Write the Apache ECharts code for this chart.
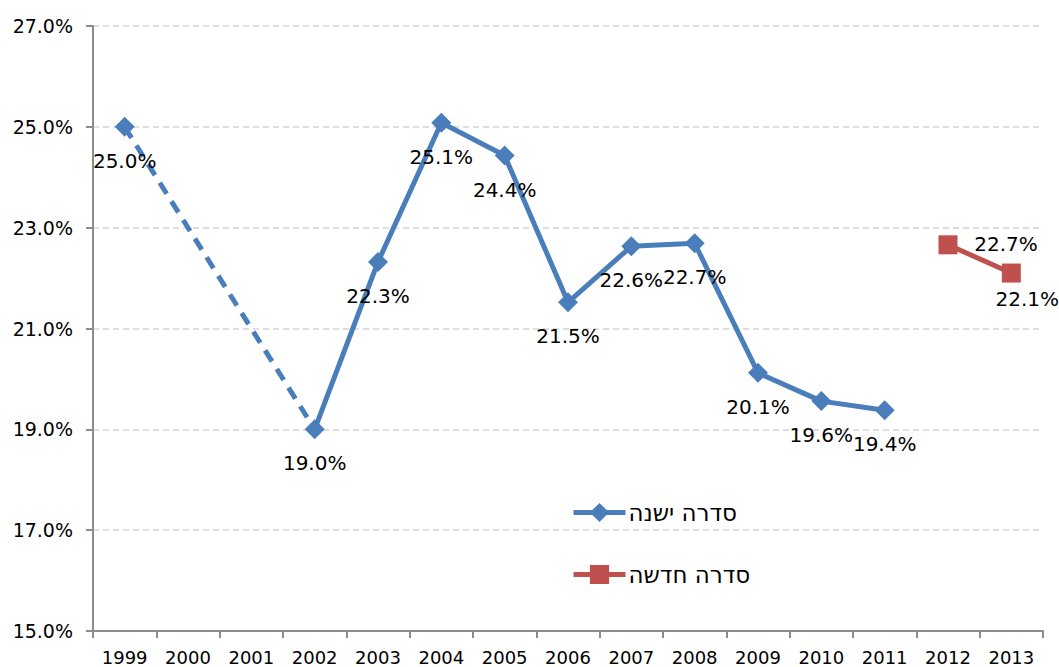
<!DOCTYPE html>
<html>
<head>
<meta charset="utf-8">
<script src="https://cdn.jsdelivr.net/npm/echarts@6/dist/echarts.min.js"></script>
<style>
html,body{margin:0;padding:0;background:#fff;}
#main{width:1059px;height:667px;}
</style>
</head>
<body>
<div id="main"></div>
<script>
var years = ['1999','2000','2001','2002','2003','2004','2005','2006','2007','2008','2009','2010','2011','2012','2013'];
// סדרה ישנה
var oldSeries = [25.0, null, null, 19.0, 22.32, 25.08, 24.43, 21.52, 22.63, 22.69, 20.12, 19.56, 19.38, null, null];
// קטע מקווקו 1999-2002
var oldGap = [25.0, null, null, 19.0, null, null, null, null, null, null, null, null, null, null, null];
// סדרה חדשה
var newSeries = [null, null, null, null, null, null, null, null, null, null, null, null, null, 22.66, 22.10];
var yTicks = [15, 17, 19, 21, 23, 25, 27];

var font = 'DejaVu Sans';
var blue = '#4a7ebb';
var red = '#c0504d';

// svg כדי שהעברית תוצג בכיוון הנכון
var chart = echarts.init(document.getElementById('main'), null, { renderer: 'svg' });

function pct(p){ return p.value == null ? '' : p.value.toFixed(1) + '%'; }

var option = {
	animation: false,
	textStyle: { fontFamily: font },
	grid: { left: 93, right: 16, top: 26, bottom: 36 },
	legend: {
		orient: 'vertical',
		left: 566,
		top: 496,
		itemGap: 39,
		itemWidth: 52,
		itemHeight: 24,
		itemStyle: {},
		data: ['סדרה ישנה', 'סדרה חדשה'],
		lineStyle: { width: 5 },
		textStyle: { fontSize: 23, color: '#000', fontFamily: font, padding: [0, 0, 0, -2] }
	},
	xAxis: {
		type: 'category',
		data: years,
		boundaryGap: true,
		axisLine: { lineStyle: { color: '#8c8c8c', width: 2 } },
		axisTick: { show: true, length: 7, lineStyle: { color: '#8c8c8c', width: 2 } },
		axisLabel: { color: '#000', fontSize: 18, margin: 17 }
	},
	yAxis: {
		type: 'value',
		min: yTicks[0],
		max: yTicks[yTicks.length - 1],
		interval: 2,
		axisLine: { show: true, lineStyle: { color: '#8c8c8c', width: 2 } },
		axisTick: { show: true, length: 7, lineStyle: { color: '#8c8c8c', width: 2 } },
		axisLabel: { color: '#000', fontSize: 19, margin: 20, formatter: function(v){ return v.toFixed(1) + '%'; } },
		splitLine: { lineStyle: { color: '#d4d4d4', type: [6, 4], width: 1.5 } }
	},
	series: [
		{
			name: 'סדרה ישנה-gap',
			type: 'line',
			data: oldGap,
			connectNulls: true,
			showSymbol: false,
			symbol: 'none',
			lineStyle: { color: blue, width: 5, type: [13, 9] },
			z: 1
		},
		{
			name: 'סדרה ישנה',
			type: 'line',
			data: oldSeries,
			connectNulls: false,
			symbol: 'diamond',
			symbolSize: 20,
			itemStyle: { color: blue },
			lineStyle: { color: blue, width: 5 },
			label: {
				show: true,
				position: 'bottom',
				distance: 14,
				color: '#000',
				fontSize: 20,
				formatter: pct
			},
			z: 2
		},
		{
			name: 'סדרה חדשה',
			type: 'line',
			data: newSeries,
			symbol: 'rect',
			symbolSize: 19,
			itemStyle: { color: red },
			lineStyle: { color: red, width: 5 },
			label: {
				show: true,
				color: '#000',
				fontSize: 20,
				formatter: pct
			},
			labelLayout: function(p){
				if (p.dataIndex === 13) return { dx: 58, dy: 24 };
				return { dx: 16, dy: 50 };
			},
			z: 2
		}
	]
};
chart.setOption(option);
</script>
</body>
</html>
